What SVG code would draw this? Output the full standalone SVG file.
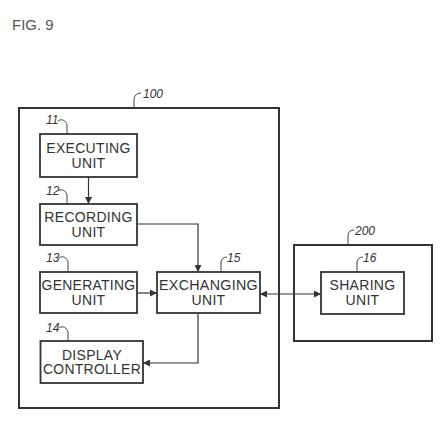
<svg xmlns="http://www.w3.org/2000/svg" width="445" height="427" viewBox="0 0 445 427">
<style>
.box{fill:#fff;stroke:#333;stroke-width:1.8}
.frame{fill:none;stroke:#333;stroke-width:2}
.t{font-family:"Liberation Sans",Arial,sans-serif;font-size:14px;fill:#333;text-anchor:middle;letter-spacing:0.3px}
.ref{font-family:"Liberation Sans",Arial,sans-serif;font-size:12px;font-style:italic;fill:#333}
.lead{fill:none;stroke:#444;stroke-width:1}
.conn{fill:none;stroke:#333;stroke-width:1.2}
</style>
<defs>
<marker id="ah" viewBox="0 0 10 10" refX="10" refY="5" markerWidth="7" markerHeight="7" markerUnits="userSpaceOnUse" orient="auto-start-reverse">
<path d="M0,0 L10,5 L0,10 z" fill="#333"/>
</marker>
</defs>
<rect width="445" height="427" fill="#fff"/>
<text x="12" y="30" style="font-family:'Liberation Sans',Arial,sans-serif;font-size:15px;fill:#555">FIG. 9</text>

<g id="device100">
<rect class="frame" x="19" y="108" width="260" height="300"/>
<path class="lead" d="M134,108 L134,99 Q135,93 141,93"/>
<text class="ref" x="143" y="98">100</text>
</g>

<g id="device200">
<rect class="frame" x="294" y="245" width="138" height="96"/>
<path class="lead" d="M348,245 L348,235 Q349,230 354,230"/>
<text class="ref" x="355" y="235">200</text>
</g>

<g id="n11">
<rect class="box" x="40" y="134" width="97" height="43"/>
<text class="t" x="88.5" y="153">EXECUTING</text>
<text class="t" x="88.5" y="167.5">UNIT</text>
<path class="lead" d="M58,121 C62,118 66,121 67,125 L67,134"/>
<text class="ref" x="46" y="124">11</text>
</g>

<g id="n12">
<rect class="box" x="40" y="204" width="97" height="41"/>
<text class="t" x="88.5" y="222">RECORDING</text>
<text class="t" x="88.5" y="236.5">UNIT</text>
<path class="lead" d="M58,191 C62,188 66,191 67,195 L67,204"/>
<text class="ref" x="46" y="195">12</text>
</g>

<g id="n13">
<rect class="box" x="40" y="272" width="97" height="41"/>
<text class="t" x="88.5" y="290" textLength="94" lengthAdjust="spacingAndGlyphs">GENERATING</text>
<text class="t" x="88.5" y="304.5">UNIT</text>
<path class="lead" d="M59,258 C63,255 67,258 68,262 L68,272"/>
<text class="ref" x="46" y="262">13</text>
</g>

<g id="n14">
<rect class="box" x="40.5" y="341" width="102.5" height="42"/>
<text class="t" x="92" y="359.5">DISPLAY</text>
<text class="t" x="92" y="374" textLength="98" lengthAdjust="spacingAndGlyphs">CONTROLLER</text>
<path class="lead" d="M59,328 C63,325 67,328 68,332 L68,341"/>
<text class="ref" x="46" y="332">14</text>
</g>

<g id="n15">
<rect class="box" x="157" y="272" width="103" height="41"/>
<text class="t" x="208.5" y="290" textLength="99" lengthAdjust="spacingAndGlyphs">EXCHANGING</text>
<text class="t" x="208.5" y="304.5">UNIT</text>
<path class="lead" d="M221,272 L221,262 Q222,257 227,257"/>
<text class="ref" x="227" y="262">15</text>
</g>

<g id="n16">
<rect class="box" x="321" y="272" width="83" height="42"/>
<text class="t" x="362.5" y="290">SHARING</text>
<text class="t" x="362.5" y="304.5">UNIT</text>
<path class="lead" d="M357,272 L357,262 Q358,257 363,257"/>
<text class="ref" x="363" y="262">16</text>
</g>

<g id="connectors">
<path class="conn" d="M88.5,177 L88.5,204" marker-end="url(#ah)"/>
<path class="conn" d="M137,224 L198,224 L198,272" marker-end="url(#ah)"/>
<path class="conn" d="M137,293 L157,293" marker-end="url(#ah)"/>
<path class="conn" d="M198,313 L198,363 L143,363" marker-end="url(#ah)"/>
<path class="conn" d="M260,294 L321,294" marker-start="url(#ah)" marker-end="url(#ah)"/>
</g>
</svg>
